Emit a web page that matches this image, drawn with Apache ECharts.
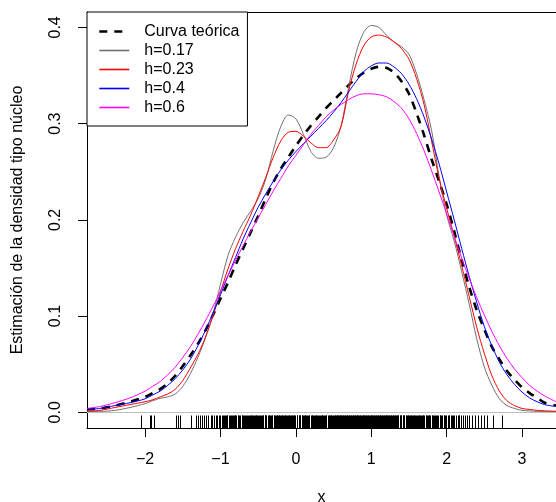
<!DOCTYPE html>
<html><head><meta charset="utf-8">
<script src="https://cdn.jsdelivr.net/npm/echarts@6/dist/echarts.min.js"></script>
<style>html,body{margin:0;padding:0;background:#fff}#c{width:556px;height:502px}</style>
</head><body><div id="c"></div>
<script>
const xs = [-2.77,-2.6,-2.4,-2.2,-2.0,-1.9,-1.8,-1.7,-1.6,-1.5,-1.4,-1.3,-1.2,-1.1,-1.0,-0.9,-0.8,-0.7,-0.6,-0.5,-0.4,-0.3,-0.2,-0.1,0.0,0.1,0.2,0.3,0.4,0.5,0.6,0.7,0.8,0.9,1.0,1.1,1.2,1.3,1.4,1.5,1.6,1.7,1.8,1.9,2.0,2.1,2.2,2.3,2.4,2.5,2.6,2.7,2.8,2.9,3.0,3.1,3.2,3.3,3.45];
const yTeorica = [0.003,0.004,0.007,0.011,0.016,0.020,0.024,0.030,0.038,0.048,0.059,0.071,0.085,0.101,0.118,0.135,0.153,0.170,0.187,0.204,0.222,0.239,0.253,0.265,0.277,0.288,0.298,0.307,0.316,0.324,0.332,0.340,0.347,0.353,0.357,0.359,0.358,0.353,0.344,0.331,0.311,0.288,0.263,0.240,0.216,0.188,0.158,0.130,0.106,0.086,0.068,0.055,0.043,0.034,0.026,0.020,0.015,0.010,0.007];
const yH017 = [0.001,0.001,0.002,0.005,0.009,0.012,0.0145,0.016,0.019,0.027,0.040,0.057,0.077,0.102,0.133,0.163,0.182,0.197,0.209,0.222,0.242,0.272,0.297,0.309,0.305,0.289,0.271,0.264,0.265,0.275,0.298,0.338,0.374,0.395,0.402,0.400,0.392,0.385,0.380,0.372,0.352,0.325,0.293,0.245,0.205,0.178,0.146,0.112,0.076,0.047,0.028,0.014,0.007,0.004,0.002,0.0015,0.001,0.001,0.001];
const yH023 = [0.001,0.002,0.005,0.008,0.011,0.013,0.016,0.019,0.024,0.033,0.046,0.060,0.078,0.100,0.125,0.149,0.170,0.188,0.205,0.224,0.244,0.265,0.282,0.291,0.292,0.287,0.280,0.275,0.275,0.283,0.297,0.334,0.362,0.381,0.390,0.392,0.390,0.385,0.378,0.367,0.347,0.320,0.282,0.243,0.212,0.183,0.152,0.120,0.088,0.061,0.038,0.022,0.012,0.007,0.004,0.003,0.002,0.0015,0.001];
const yH04 = [0.003,0.004,0.007,0.010,0.014,0.018,0.022,0.028,0.035,0.044,0.055,0.069,0.085,0.103,0.122,0.142,0.161,0.180,0.197,0.213,0.227,0.240,0.252,0.262,0.271,0.279,0.287,0.295,0.303,0.312,0.322,0.333,0.344,0.354,0.360,0.363,0.363,0.359,0.352,0.341,0.326,0.307,0.284,0.258,0.229,0.200,0.170,0.141,0.114,0.089,0.069,0.052,0.039,0.029,0.021,0.015,0.011,0.008,0.006];
const yH06 = [0.004,0.006,0.010,0.015,0.022,0.027,0.032,0.039,0.047,0.057,0.068,0.081,0.095,0.110,0.126,0.142,0.158,0.173,0.188,0.202,0.216,0.230,0.243,0.256,0.267,0.278,0.289,0.298,0.307,0.314,0.320,0.325,0.329,0.331,0.331,0.330,0.328,0.323,0.316,0.305,0.290,0.272,0.251,0.229,0.206,0.183,0.160,0.139,0.119,0.101,0.084,0.069,0.056,0.045,0.036,0.028,0.022,0.017,0.011];
const rugX = [-2.05,-1.94,-1.915,-1.88,-1.585,-1.56,-1.53,-1.385,-1.32,-1.30,-1.275,-1.245,-1.22,-1.19,-1.16,-1.13,-1.11,-1.08,-1.06,-1.04,-1.02,-1.00,-0.985,-0.96,-0.945,-0.93,-0.91,-0.89,-0.875,-0.86,-0.84,-0.82,-0.805,-0.79,-0.77,-0.755,-0.74,-0.72,-0.705,-0.69,-0.675,-0.66,-0.64,-0.625,-0.61,-0.60,-0.585,-0.57,-0.555,-0.54,-0.525,-0.51,-0.50,-0.485,-0.47,-0.455,-0.44,-0.43,-0.415,-0.40,-0.39,-0.375,-0.36,-0.35,-0.335,-0.32,-0.31,-0.295,-0.28,-0.27,-0.255,-0.245,-0.23,-0.22,-0.205,-0.195,-0.18,-0.17,-0.155,-0.145,-0.13,-0.12,-0.105,-0.095,-0.08,-0.07,-0.055,-0.045,-0.03,-0.02,-0.005,0.01,0.02,0.035,0.05,0.06,0.075,0.09,0.105,0.12,0.135,0.15,0.165,0.18,0.195,0.21,0.225,0.24,0.255,0.27,0.285,0.30,0.315,0.33,0.345,0.36,0.375,0.39,0.405,0.42,0.435,0.45,0.46,0.475,0.49,0.50,0.515,0.53,0.54,0.555,0.565,0.58,0.59,0.605,0.615,0.63,0.64,0.65,0.665,0.675,0.69,0.70,0.71,0.725,0.735,0.745,0.76,0.77,0.78,0.795,0.805,0.815,0.83,0.84,0.85,0.865,0.875,0.885,0.90,0.91,0.92,0.935,0.945,0.955,0.97,0.98,0.99,1.005,1.015,1.025,1.04,1.05,1.06,1.075,1.085,1.095,1.11,1.12,1.13,1.145,1.155,1.165,1.18,1.19,1.20,1.215,1.225,1.24,1.25,1.26,1.275,1.285,1.30,1.31,1.325,1.335,1.35,1.36,1.375,1.39,1.40,1.415,1.43,1.44,1.455,1.47,1.485,1.50,1.51,1.525,1.54,1.555,1.57,1.585,1.60,1.615,1.63,1.645,1.66,1.675,1.69,1.705,1.72,1.735,1.75,1.77,1.785,1.80,1.82,1.835,1.85,1.87,1.885,1.905,1.92,1.94,1.96,1.975,1.995,2.015,2.035,2.055,2.075,2.10,2.12,2.145,2.17,2.19,2.215,2.24,2.27,2.30,2.33,2.37,2.41,2.455,2.50,2.54,2.61,2.74,
  -0.952,-0.918,-0.851,-0.812,-0.763,-0.713,-0.652,-0.593,-0.532,-0.463,-0.407,-0.343,-0.287,-0.238,-0.187,-0.138,-0.087,-0.037,0.013,0.043,0.083,0.127,0.172,0.217,0.262,0.308,0.352,0.398,0.443,0.468,0.522,0.548,0.572,0.598,0.623,0.657,0.683,0.717,0.752,0.787,0.822,0.857,0.893,0.927,0.962,0.997,1.032,1.067,1.102,1.137,1.172,1.207,1.232,1.268,1.293,1.318,1.343,1.383,1.423,1.463,1.493,1.532,1.562,1.593,1.638,1.683,1.728,1.762,1.812,1.862,1.912,1.967,2.025,2.087,2.157];
const xTicks = [-2,-1,0,1,2,3];
const yTicks = [0,0.1,0.2,0.3,0.4];
const names = ['Curva teórica','h=0.17','h=0.23','h=0.4','h=0.6'];
const colors = ['#000000','#707070','#FF0000','#0000FF','#FF00FF'];
const X_MIN = -2.77, X_MAX = 3.45, Y_MIN = -0.0163, Y_MAX = 0.416;

const FONT = "'Liberation Sans', Arial, Helvetica, sans-serif";
function pairs(ys){ return xs.map((x,i)=>[x, ys[i]]); }
const seriesY = [yTeorica, yH017, yH023, yH04, yH06];
const lineWidths = [2.6, 1, 1, 1, 1];
const legendWidths = [2.6, 1.6, 1.6, 1.6, 1.6];
const lineTypes = [[8,7], 'solid', 'solid', 'solid', 'solid'];

const lineSeries = seriesY.map((ys, i) => ({
  type:'line', name:names[i], data:pairs(ys), showSymbol:false, symbol:'none',
  smooth:0.3, silent:true, z: 3 + i,
  color: colors[i],
  lineStyle:{color:colors[i], width:lineWidths[i], type:lineTypes[i]},
  itemStyle:{color:colors[i]}
}));

const chart = echarts.init(document.getElementById('c'), null, {renderer:'canvas'});
chart.setOption({
  animation:false,
  backgroundColor:'#fff',
  color: colors,
  textStyle:{fontFamily:FONT},
  grid:{left:87, right:0, top:12, bottom:74, containLabel:false, outerBoundsMode:'none'},
  xAxis:[{
    type:'value', min:X_MIN, max:X_MAX, position:'bottom',
    name:'x', nameLocation:'middle', nameGap:62,
    nameTextStyle:{fontSize:16, color:'#000', fontFamily:FONT},
    axisLine:{show:true, onZero:false, lineStyle:{color:'#000', width:1}},
    axisTick:{show:true, customValues:xTicks, length:9, lineStyle:{color:'#000'}},
    axisLabel:{customValues:xTicks, fontSize:16, color:'#000', margin:24, fontFamily:FONT,
      formatter: v => String(v).replace('-', '\u2212')},
    splitLine:{show:false}
  },{
    type:'value', min:X_MIN, max:X_MAX, position:'top',
    axisLine:{show:true, onZero:false, lineStyle:{color:'#000', width:1}},
    axisTick:{show:false}, axisLabel:{show:false}, splitLine:{show:false}
  }],
  yAxis:{
    type:'value', min:Y_MIN, max:Y_MAX,
    name:'Estimación de la densidad tipo núcleo', nameLocation:'middle', nameGap:61, nameRotate:90,
    nameTextStyle:{fontSize:16, color:'#000', fontFamily:FONT},
    axisLine:{show:true, onZero:false, lineStyle:{color:'#000', width:1}},
    axisTick:{show:true, customValues:yTicks, length:9, lineStyle:{color:'#000'}},
    axisLabel:{customValues:yTicks, fontSize:16, color:'#000', margin:23, rotate:90, fontFamily:FONT,
      formatter: v => v.toFixed(1)},
    splitLine:{show:false}
  },
  legend:{
    data:names.map((n, i) => ({name:n, lineStyle:{width:legendWidths[i], color:colors[i], type:lineTypes[i], opacity:1}})),
    orient:'vertical', left:87, top:12,
    padding:[10,8,9,11], itemGap:0, itemWidth:30, itemHeight:19,
    borderColor:'#000', borderWidth:1, borderRadius:0, backgroundColor:'#fff',
    itemStyle:{opacity:0, borderWidth:0},
    textStyle:{fontSize:16, color:'#000', fontFamily:FONT, padding:[0,0,0,10], lineHeight:19},
    selectedMode:false
  },
  series:[{
    type:'custom', name:'rug', silent:true, z:2,
    data: rugX.map(v => [v, Y_MIN]),
    encode:{x:0, y:1},
    renderItem:(params, api) => {
      const p = api.coord([api.value(0), api.value(1)]);
      const px = Math.round(p[0]) + 0.5;
      return {type:'line', shape:{x1:px, y1:p[1], x2:px, y2:p[1]-12.5},
        style:{stroke:'#000', lineWidth:1}};
    },
    markLine:{silent:true, symbol:'none', animation:false,
      data:[{yAxis:0}], label:{show:false},
      lineStyle:{color:'#BEBEBE', type:'solid', width:1}}
  }].concat(lineSeries)
});
</script></body></html>
